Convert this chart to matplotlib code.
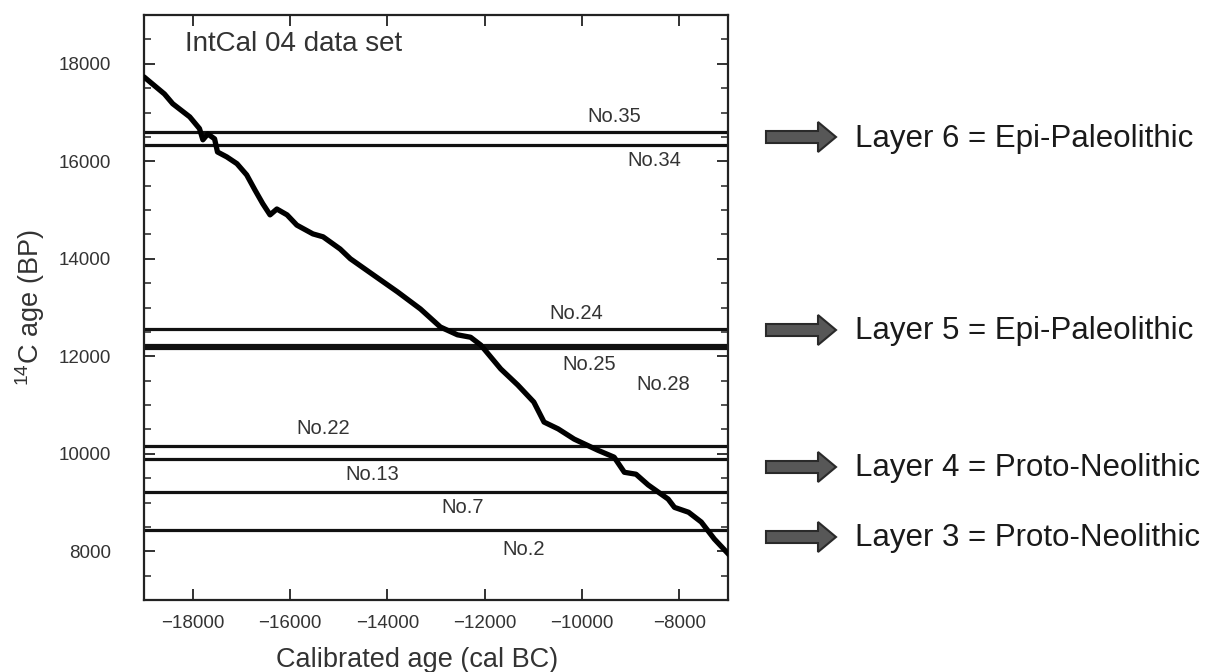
import matplotlib
matplotlib.use("Agg")
import matplotlib.pyplot as plt
from matplotlib.patches import Polygon
from matplotlib.ticker import MultipleLocator
import numpy as np

# ---------------- data ----------------
curve_cal = [-19000, -18580, -18410, -18060, -17860, -17790, -17690, -17550, -17490,
             -17300, -17090, -16890, -16720, -16560, -16410, -16270, -16060, -15860,
             -15530, -15320, -15110, -14970, -14760, -14290, -13790, -13320, -12910,
             -12560, -12290, -12080, -11670, -11320, -10990, -10780, -10490, -10160,
             -9670, -9340, -9130, -8890, -8640, -8230, -8100, -7810, -7550, -7280, -6970]
curve_c14 = [17730, 17380, 17180, 16910, 16670, 16440, 16560, 16460, 16190,
             16090, 15950, 15720, 15410, 15130, 14900, 15020, 14900, 14690,
             14510, 14450, 14300, 14200, 14000, 13670, 13320, 12970, 12600,
             12440, 12390, 12230, 11740, 11410, 11060, 10650, 10510, 10300,
             10070, 9930, 9620, 9580, 9360, 9070, 8900, 8800, 8600, 8250, 7920]

sample_names = ["No.35", "No.34", "No.24", "No.25", "No.28", "No.22", "No.13", "No.7", "No.2"]
sample_c14 = [16600, 16340, 12560, 12230, 12170, 10150, 9900, 9210, 8430]

layer_labels = ["Layer 6 = Epi-Paleolithic", "Layer 5 = Epi-Paleolithic",
                "Layer 4 = Proto-Neolithic", "Layer 3 = Proto-Neolithic"]

xticks = [-18000, -16000, -14000, -12000, -10000, -8000]
yticks = [8000, 10000, 12000, 14000, 16000, 18000]

# ---------------- layout ----------------
W, H = 1207, 672
plt.rcParams['font.family'] = ['Liberation Sans', 'DejaVu Sans']
plt.rcParams['mathtext.default'] = 'regular'

fig = plt.figure(figsize=(W / 100, H / 100), dpi=100)
fig.patch.set_facecolor('white')

L, R, T, B = 144, 728, 15, 600
ax = fig.add_axes([L / W, 1 - B / H, (R - L) / W, (B - T) / H])
ax.set_xlim(-19000, -7000)
ax.set_ylim(7000, 19000)

ink = '#111111'
for s in ax.spines.values():
    s.set_linewidth(1.6)
    s.set_color('#222222')

# horizontal sample lines
for v in sample_c14:
    ax.axhline(v, color=ink, lw=2.3, zorder=2)

# calibration curve
ax.plot(curve_cal, curve_c14, color='black', lw=3.8, solid_joinstyle='round',
        solid_capstyle='round', zorder=3)

# ticks
ax.set_xticks(xticks)
ax.set_yticks(yticks)
ax.yaxis.set_minor_locator(MultipleLocator(500))
ax.tick_params(axis='both', which='both', direction='in', top=True, right=True,
               color='#222222')
ax.tick_params(axis='both', which='major', length=8, width=1.3, labelsize=13.5,
               labelcolor='#333333')
ax.tick_params(axis='y', which='minor', length=5, width=1.1)
ax.tick_params(axis='y', which='major', pad=24)
ax.tick_params(axis='x', which='major', pad=11)
ax.set_xticklabels([f"\u2212{abs(t)}" for t in xticks])

# inner texts
ax.text(0.07, 0.972, "IntCal 04 data set", transform=ax.transAxes, fontsize=20,
        color='#333333', ha='left', va='top')

label_pos = [(-9340, 16910), (-8515, 16010), (-10120, 12870), (-9855, 11840),
             (-8330, 11430), (-15320, 10510), (-14310, 9580), (-12450, 8900),
             (-11200, 8040)]
for name, (lx, ly) in zip(sample_names, label_pos):
    ax.text(lx, ly, name, fontsize=14.5, color='#333333', ha='center', va='center')

# axis titles
fig.text(417 / W, 1 - 660 / H, "Calibrated age (cal BC)", fontsize=19.5, color='#333333',
         ha='center', va='center')
fig.text(30 / W, 1 - 308 / H, r"$^{14}$C age (BP)", fontsize=19.5, color='#333333',
         ha='center', va='center', rotation=90)

# overlay for arrows and layer labels (pixel coordinates)
ov = fig.add_axes([0, 0, 1, 1], zorder=5)
ov.set_xlim(0, W)
ov.set_ylim(H, 0)
ov.axis('off')
ov.patch.set_alpha(0)

arrow_y = [137, 330, 467, 537]
text_base = [147, 339, 476, 546]
for ay, tb, lab in zip(arrow_y, text_base, layer_labels):
    x0, x1, xt = 766, 818, 836
    pts = [(x0, ay - 6), (x1, ay - 6), (x1, ay - 15), (xt, ay),
           (x1, ay + 15), (x1, ay + 6), (x0, ay + 6)]
    ov.add_patch(Polygon(pts, closed=True, facecolor='#575757', edgecolor='#2a2a2a',
                         lw=1.5, joinstyle='miter'))
    ov.text(855, tb, lab, fontsize=22.5, color='#1a1a1a', ha='left', va='baseline')

fig.savefig("out.png", dpi=100, facecolor='white')
